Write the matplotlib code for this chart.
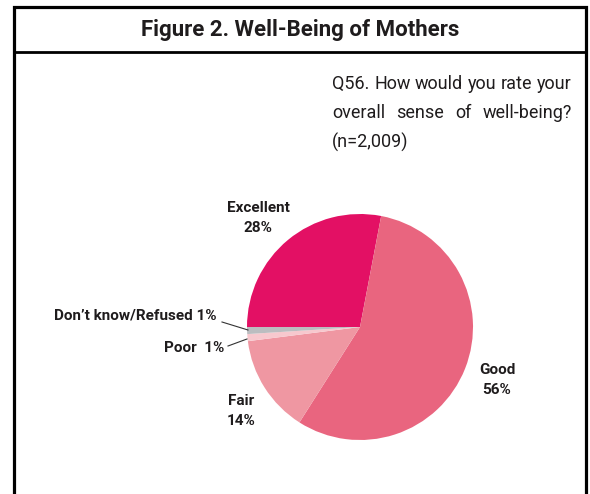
import matplotlib
matplotlib.use("Agg")
import matplotlib.pyplot as plt
from matplotlib.patches import Rectangle

# data
labels = ["Excellent", "Good", "Fair", "Poor", "Don\u2019t know/Refused"]
shares = [28, 56, 14, 1, 1]
colors = ["#E31064", "#E9657F", "#EF97A2", "#F7C8CE", "#BBBDC0"]

title = "Figure 2. Well-Being of Mothers"
question = ["Q56. How would you rate your",
            "overall sense of well-being?",
            "(n=2,009)"]

plt.rcParams['font.family'] = ['Roboto', 'DejaVu Sans']

W, H = 590, 494
fig = plt.figure(figsize=(W / 100, H / 100), dpi=100)
ax = fig.add_axes([0, 0, 1, 1])
ax.set_xlim(0, W)
ax.set_ylim(0, H)
ax.set_aspect('equal')
ax.axis('off')

def Y(y):
    # picture rows -> axes y
    return H - y

# frame and title box
ax.add_patch(Rectangle((14, Y(500)), 572, 493, fill=False, lw=2.3, ec='black'))
ax.plot([14, 586], [Y(52), Y(52)], color='black', lw=2.0)
ax.text(300, Y(30), title, ha='center', va='center', fontsize=16,
        fontweight='bold', color='#1f1c1d')

# question text, justified to the block width
fig.canvas.draw()
renderer = fig.canvas.get_renderer()
x0, x1 = 332, 572
qfont = dict(fontsize=13, color='#1f1c1d', va='center', ha='left')
for i, line in enumerate(question):
    y = Y(84 + i * 29)
    words = line.split()
    if i == len(question) - 1:
        ax.text(x0, y, line, **qfont)
        continue
    ts = [ax.text(0, y, w, **qfont) for w in words]
    widths = [t.get_window_extent(renderer).width for t in ts]
    gap = max((x1 - x0 - sum(widths)) / (len(words) - 1), 3)
    x = x0
    for t, w in zip(ts, widths):
        t.set_x(x)
        x += w + gap

# pie
cx, cy, r = 360, Y(327), 113
ax.pie(shares, colors=colors, startangle=180, counterclock=False,
       center=(cx, cy), radius=r, wedgeprops=dict(linewidth=0))
ax.set_xlim(0, W)
ax.set_ylim(0, H)

# labels
lab = dict(fontsize=11, fontweight='bold', color='#1f1c1d', linespacing=1.55)
ax.text(258, Y(218), f"{labels[0]}\n{shares[0]}%", ha='center', va='center', **lab)
ax.text(497, Y(380), f"{labels[1]}\n{shares[1]}%", ha='center', va='center', **lab)
ax.text(241, Y(411), f"{labels[2]}\n{shares[2]}%", ha='center', va='center', **lab)
ax.text(224, Y(348), f"{labels[3]}  {shares[3]}%", ha='right', va='center', **lab)
ax.text(217, Y(315), f"{labels[4]} {shares[4]}%", ha='right', va='center', **lab)

# leader lines
ax.plot([222, 248], [Y(322), Y(330)], color='#333333', lw=0.8)
ax.plot([228, 247], [Y(346), Y(339)], color='#333333', lw=0.8)

fig.savefig("out.png", dpi=100)
